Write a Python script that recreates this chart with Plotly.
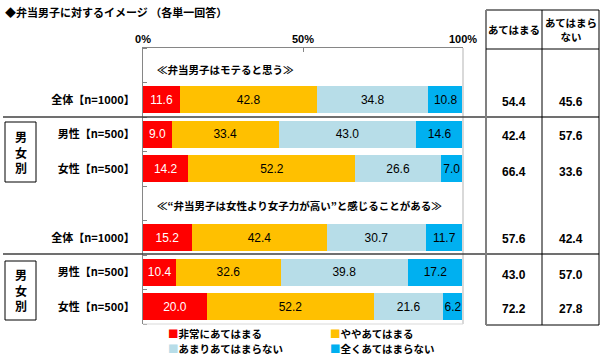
import plotly.graph_objects as go

# ---------------- data ----------------
row_labels = ["", "全体【n=1000】", "男性【n=500】", "女性【n=500】",
              "", "全体【n=1000】", "男性【n=500】", "女性【n=500】"]
headers = ["≪弁当男子はモテると思う≫",
           "≪“弁当男子は女性より女子力が高い”と感じることがある≫"]
series_names = ["非常にあてはまる", "ややあてはまる", "あまりあてはまらない", "全くあてはまらない"]
series_colors = ["#FF0000", "#FFC000", "#B7DDE8", "#00B0F0"]
data_rows = [1, 2, 3, 5, 6, 7]
v_very = [11.6, 9.0, 14.2, 15.2, 10.4, 20.0]
v_some = [42.8, 33.4, 52.2, 42.4, 32.6, 52.2]
v_notmuch = [34.8, 43.0, 26.6, 30.7, 39.8, 21.6]
v_notall = [10.8, 14.6, 7.0, 11.7, 17.2, 6.2]
table_headers = ["あてはまる", "あてはまら<br>ない"]
t_yes = [54.4, 42.4, 66.4, 57.6, 43.0, 72.2]
t_no = [45.6, 57.6, 33.6, 42.4, 57.0, 27.8]
x_ticks = [0, 50, 100]
x_ticklabels = ["0%", "50%", "100%"]

W, H = 600, 358
def px(x): return x / W
def py(y): return 1 - y / H

JP = "Noto Sans CJK JP"
NUM = "Liberation Sans, Arial"

fig = go.Figure()
values = [v_very, v_some, v_notmuch, v_notall]
text_colors = ["white", "black", "black", "black"]
for name, col, vals, tc in zip(series_names, series_colors, values, text_colors):
    fig.add_trace(go.Bar(
        y=data_rows, x=vals, name=name, orientation="h",
        marker=dict(color=col, line=dict(width=0)),
        width=0.78,
        text=[f"{v:.1f}" for v in vals], textposition="inside",
        insidetextanchor="middle", textangle=0, constraintext="none",
        textfont=dict(color=tc, size=12, family=NUM),
        showlegend=False, hoverinfo="skip"))

y0, y1 = 48, 324
x0, x1 = 143, 463
fig.update_layout(
    width=W, height=H, margin=dict(l=0, r=0, t=0, b=0, pad=0, autoexpand=False),
    paper_bgcolor="white", plot_bgcolor="white",
    barmode="stack", bargap=0.2, uniformtext=dict(mode=False),
    xaxis=dict(domain=[px(x0), px(x1)], range=[0, 100], side="top",
               tickvals=x_ticks, ticktext=x_ticklabels, automargin=False,
               ticks="inside", ticklen=4, tickcolor="#868686",
               showgrid=False, zeroline=False,
               showline=True, linecolor="#868686", linewidth=1,
               tickfont=dict(family=NUM, size=11, color="black", weight="bold"),
               fixedrange=True),
    yaxis=dict(domain=[py(y1), py(y0)], range=[7.5, -0.5], automargin=False,
               tickmode="array", tickvals=list(range(len(row_labels))),
               ticktext=row_labels, ticks="",
               minor=dict(tickvals=[i + 0.5 for i in range(-1, len(row_labels))],
                          ticks="inside", ticklen=4, tickcolor="#868686"),
               showgrid=False, zeroline=False,
               showline=True, linecolor="#868686", linewidth=1,
               ticklabelstandoff=5,
               tickfont=dict(family=JP, size=11, color="black", weight="bold"),
               fixedrange=True),
)

shapes = []
# right and bottom light border of plot
shapes.append(dict(type="line", xref="paper", yref="paper", x0=px(x1), x1=px(x1),
                   y0=py(y0), y1=py(y1), line=dict(color="#D9D9D9", width=2)))
shapes.append(dict(type="line", xref="paper", yref="paper", x0=px(x0), x1=px(x1),
                   y0=py(y1), y1=py(y1), line=dict(color="#D9D9D9", width=1)))
# separators
for ys in (117, 254):
    shapes.append(dict(type="line", xref="paper", yref="paper", x0=px(3), x1=px(599),
                       y0=py(ys), y1=py(ys), line=dict(color="#404040", width=1.5)))
# gender boxes
for (ya, yb) in ((122, 182), (261, 320)):
    shapes.append(dict(type="rect", xref="paper", yref="paper", x0=px(5), x1=px(36),
                       y0=py(ya), y1=py(yb), line=dict(color="black", width=1)))
# table
tx0, tx1, txm = 486, 599, 542
ty0, ty1, tyh = 10, 325, 49
shapes.append(dict(type="rect", xref="paper", yref="paper", x0=px(tx0), x1=px(tx1),
                   y0=py(ty0), y1=py(ty1), line=dict(color="black", width=1)))
shapes.append(dict(type="line", xref="paper", yref="paper", x0=px(tx0), x1=px(tx0),
                   y0=py(ty0), y1=py(ty1), line=dict(color="#808080", width=2)))
shapes.append(dict(type="line", xref="paper", yref="paper", x0=px(txm), x1=px(txm),
                   y0=py(ty0), y1=py(ty1), line=dict(color="black", width=1)))
shapes.append(dict(type="line", xref="paper", yref="paper", x0=px(tx0), x1=px(tx1),
                   y0=py(tyh), y1=py(tyh), line=dict(color="black", width=1)))
fig.update_layout(shapes=shapes)

ann = []
ann.append(dict(text="◆弁当男子に対するイメージ （各単一回答）", x=px(3), y=py(12),
                xanchor="left", yanchor="middle",
                font=dict(family=JP, size=11, color="black", weight="bold")))
for h, yy in zip(headers, (70, 205)):
    ann.append(dict(text=h, x=px(155), y=py(yy), xanchor="left", yanchor="middle",
                    font=dict(family=JP, size=10.5, color="black", weight="bold")))
for yy in (152, 290):
    ann.append(dict(text="男<br>女<br>別", x=px(20.5), y=py(yy), xanchor="center",
                    yanchor="middle", align="center",
                    font=dict(family=JP, size=12, color="black", weight="bold")))
# table headers
for th, xc in zip(table_headers, ((tx0 + txm) / 2, (txm + tx1) / 2)):
    ann.append(dict(text=th, x=px(xc), y=py(30), xanchor="center", yanchor="middle",
                    align="center",
                    font=dict(family=JP, size=10.5, color="black", weight="bold")))
row_centers = [102, 136, 172, 239, 275, 309]
for a, b, yc in zip(t_yes, t_no, row_centers):
    ann.append(dict(text=f"{a:.1f}", x=px((tx0 + txm) / 2), y=py(yc), xanchor="center",
                    yanchor="middle", font=dict(family=NUM, size=12, color="black", weight="bold")))
    ann.append(dict(text=f"{b:.1f}", x=px((txm + tx1) / 2), y=py(yc), xanchor="center",
                    yanchor="middle", font=dict(family=NUM, size=12, color="black", weight="bold")))
# legend: two columns, two rows
leg_pos = [(167, 333.2), (329, 333.2), (167, 348.8), (329, 348.8)]
for name, col, (lx, ly) in zip(series_names, series_colors, leg_pos):
    ann.append(dict(text=f"<span style='color:{col}'>■</span>{name}", x=px(lx), y=py(ly),
                    xanchor="left", yanchor="middle", borderpad=0,
                    font=dict(family=JP, size=10.5, color="black", weight="bold")))
for a in ann:
    a.update(xref="paper", yref="paper", showarrow=False)
fig.update_layout(annotations=ann)

fig.write_html("out.html", config={"displayModeBar": False},
               post_script="document.body.style.margin='0';document.body.style.padding='0';")
